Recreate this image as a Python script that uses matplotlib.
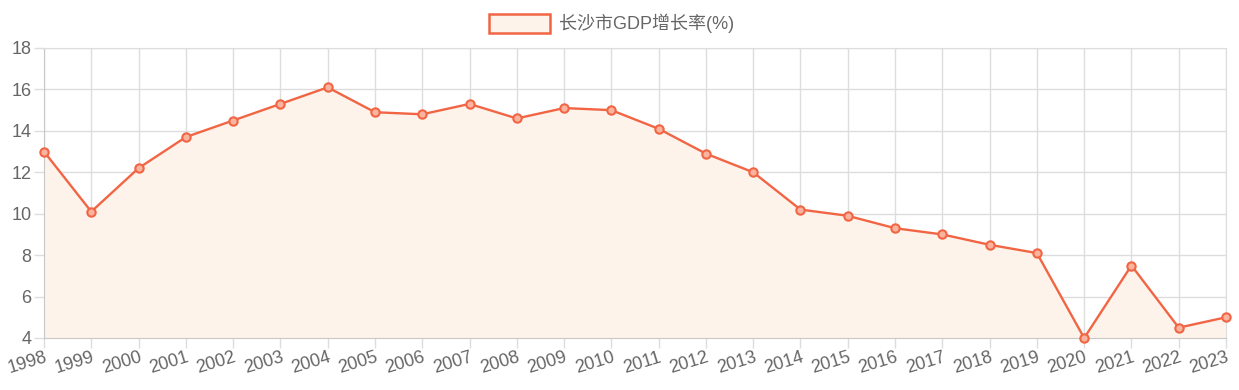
import matplotlib
matplotlib.use("Agg")
import matplotlib.pyplot as plt
from matplotlib.patches import Rectangle

years = [str(y) for y in range(1998, 2024)]
growth = [13.0, 10.1, 12.2, 13.7, 14.5, 15.3, 16.1, 14.9, 14.8, 15.3, 14.6, 15.1, 15.0,
          14.1, 12.9, 12.0, 10.2, 9.9, 9.3, 9.0, 8.5, 8.1, 4.0, 7.5, 4.5, 5.0]
yticks = [4, 6, 8, 10, 12, 14, 16, 18]
series_label = "长沙市GDP增长率(%)"

line_color = "#f26544"
fill_color = "#fdf3ea"
text_color = "#666666"
grid_color = "#dddddd"

plt.rcParams['font.family'] = ['Liberation Sans', 'Noto Sans CJK SC', 'DejaVu Sans']

W, H = 1239, 390
fig = plt.figure(figsize=(W / 100, H / 100), dpi=100)
ax = fig.add_axes([44 / W, 52 / H, (1226 - 44) / W, (338 - 48) / H])

x = list(range(len(years)))
ax.fill_between(x, growth, 4, color=fill_color, zorder=1, linewidth=0)
ax.plot(x, growth, color=line_color, linewidth=1.7, marker='o', markersize=6,
        markerfacecolor="#f9b4a0", markeredgecolor=line_color, markeredgewidth=1.5,
        zorder=3, clip_on=False)

ax.set_xlim(0, len(years) - 1)
ax.set_ylim(4, 18)
ax.set_xticks(x)
ax.set_xticklabels(years, rotation=17, ha='right', va='top', rotation_mode='anchor')
ax.set_yticks(yticks)
ax.set_yticklabels([str(v) for v in yticks])
ax.grid(True, color=grid_color, linewidth=1, zorder=0)
ax.set_axisbelow(True)
for s in ['top', 'right']:
    ax.spines[s].set_color(grid_color)
for s in ['left', 'bottom']:
    ax.spines[s].set_color("#c8c8c8")
ax.tick_params(axis='both', colors=grid_color, length=7, width=1, labelcolor=text_color,
               labelsize=13)
ax.tick_params(axis='x', pad=1)
ax.tick_params(axis='y', pad=2)

# legend
fig.patches.append(Rectangle((489 / W, 1 - 33 / H), 61 / W, 19 / H, transform=fig.transFigure,
                             facecolor=fill_color, edgecolor=line_color, linewidth=1.8))
fig.text(559 / W, 1 - 23.5 / H, series_label, color=text_color, fontsize=13,
         ha='left', va='center')

fig.savefig("out.png", dpi=100)
